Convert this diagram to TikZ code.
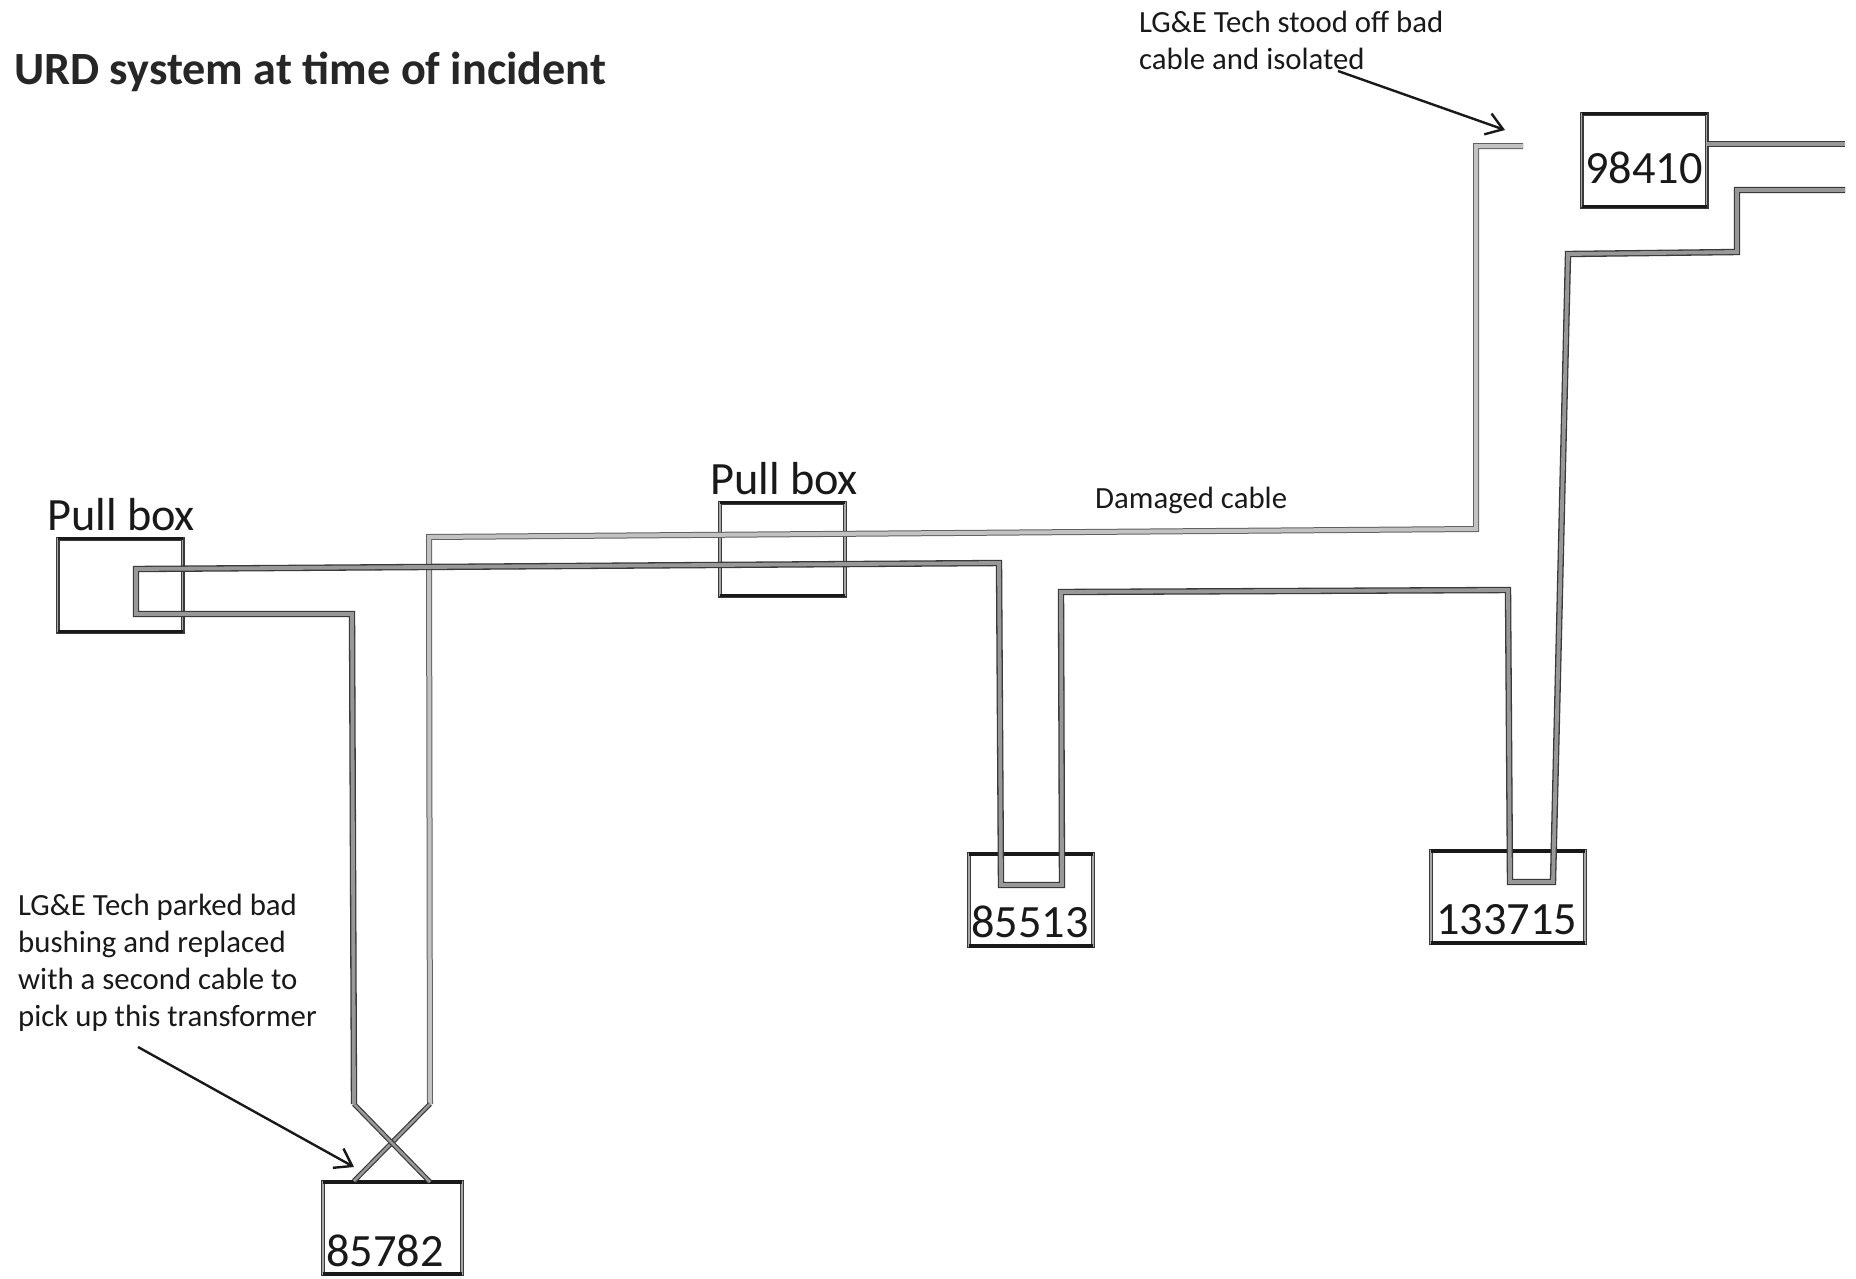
\documentclass[tikz,border=0pt]{standalone}
\usepackage{fontspec}
\setmainfont{Carlito}
\usetikzlibrary{arrows.meta}
\definecolor{cabledark}{HTML}{3A3A3A}
\definecolor{cablemid}{HTML}{989898}
\definecolor{cablelight}{HTML}{C2C2C2}
\tikzset{
  cable/.style={draw=cabledark, double=cablemid, double distance=3.8pt, line width=1.3pt, line join=miter},
  thincable/.style={draw=cabledark, double=cablemid, double distance=2.6pt, line width=1.2pt},
  lightcable/.style={draw=black!62, double=cablelight, double distance=4pt, line width=1pt, line join=miter},
  boxbase/.style={draw=cabledark, double=cablemid!85, double distance=1.8pt, line width=1.1pt, rectangle, inner sep=0pt, outer sep=0pt},
  boxedge/.style={draw=black!90, line width=3.6pt},
  big/.style={font=\fontsize{46.3}{54}\selectfont, inner sep=0pt, text=black!90},
  small/.style={font=\fontsize{30.8}{36.9}\selectfont, inner sep=0pt, align=left, text=black!90},
  titletext/.style={font=\fontsize{46.2}{54}\selectfont\bfseries, inner sep=0pt, text=black!85},
  pointer/.style={draw=black!90, line width=2.4pt, -{Straight Barb[length=16pt,width=22pt,line width=2.4pt]}}
}
\begin{document}
\begin{tikzpicture}[x=1pt,y=-1pt]
\useasboundingbox (0,0) rectangle (1856,1278);
\fill[white] (0,0) rectangle (1856,1278);

% boxes
\node[boxbase, minimum width=125pt, minimum height=93pt] (pullA) at (120,585) {};
\node[boxbase, minimum width=125pt, minimum height=93pt] (pullB) at (782.5,549) {};
\node[boxbase, minimum width=124pt, minimum height=92pt] (t85513) at (1031,900) {};
\node[boxbase, minimum width=154pt, minimum height=92pt] (t133715) at (1508,897) {};
\node[boxbase, minimum width=125pt, minimum height=93pt] (t98410) at (1644,160) {};
\node[boxbase, minimum width=139pt, minimum height=92pt] (t85782) at (392.5,1228) {};

\foreach \b in {pullA,pullB,t85513,t133715,t98410,t85782}{
  \draw[boxedge] (\b.north west) -- (\b.north east);
  \draw[boxedge] (\b.south west) -- (\b.south east);
}

% light cable: isolated stub, through pull box, down towards 85782
\coordinate (stub) at (1523,146);
\coordinate (l1) at (1476,146);
\coordinate (l2) at (1476,529);
\coordinate (l3) at (429,537);
\coordinate (l4) at (430,1104);
\coordinate (l5) at (354,1181);
\draw[lightcable] (stub) -- (l1) -- (l2) -- (l3) -- (l4);
\draw[thincable] (l4) -- (l5);

% dark cable: 85782 to pull box A to 85513
\coordinate (d1) at (430,1182);
\coordinate (d2) at (354,1104);
\coordinate (d3) at (352,614);
\coordinate (d4) at (136,614);
\coordinate (d5) at (136,569);
\coordinate (d6) at (999,563);
\coordinate (d7) at (1001,885);
\coordinate (d8) at (1062,885);
\coordinate (d9) at (1061,592);
\coordinate (d10) at (1508,590);
\coordinate (d11) at (1510,882);
\coordinate (d12) at (1553,882);
\coordinate (d13) at (1568,254);
\coordinate (d14) at (1737,252);
\coordinate (d15) at (1737,190);
\coordinate (d16) at (1845,190);
\draw[thincable] (d1) -- (d2);
\draw[cable] (d2) -- (d3) -- (d4) -- (d5) -- (d6) -- (d7) -- (d8) -- (d9) -- (d10) -- (d11) -- (d12) -- (d13) -- (d14) -- (d15) -- (d16);

% feed out of 98410
\coordinate (feed) at (1845,144);
\draw[cable] (t98410.east |- feed) -- (feed);

% labels
\node[titletext, anchor=base west] (title) at (14,84) {URD system at time of incident};
\node[big, anchor=base west] (lblA) at (47,530) {Pull box};
\node[big, anchor=base west] (lblB) at (710,494) {Pull box};
\node[big, anchor=base west] (n1) at (971,937) {85513};
\node[big, anchor=base west] (n2) at (1436,934) {133715};
\node[big, anchor=base west] (n3) at (1585,183) {98410};
\node[big, anchor=base west] (n4) at (326,1266) {85782};
\node[small, anchor=base west] (dmg) at (1095,508) {Damaged cable};
\node[small, anchor=north west] (note1) at (1139,11) {LG\&E Tech stood off bad\\cable and isolated};
\node[small, anchor=north west] (note2) at (18,894) {LG\&E Tech parked bad\\bushing and replaced\\with a second cable to\\pick up this transformer};

% pointers
\coordinate (p1a) at (1338,71);
\coordinate (p1b) at (1505,130);
\coordinate (p2a) at (138,1047);
\coordinate (p2b) at (354,1167);
\draw[pointer] (p1a) -- (p1b);
\draw[pointer] (p2a) -- (p2b);
\end{tikzpicture}
\end{document}
